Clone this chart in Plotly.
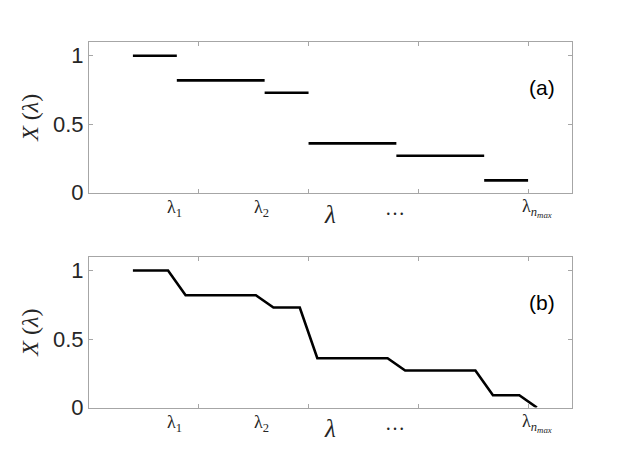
import plotly.graph_objects as go

# step edges and levels, panel (a)
step_edges = [1, 2, 4, 5, 7, 9, 10]
step_levels = [1.0, 0.82, 0.73, 0.36, 0.27, 0.09]

# smoothed curve, panel (b)
smooth_x = [1, 1.8, 2.2, 3.8, 4.2, 4.8, 5.2, 6.8, 7.2, 8.8, 9.2, 9.8, 10.2]
smooth_y = [1.0, 1.0, 0.82, 0.82, 0.73, 0.73, 0.36, 0.36, 0.27, 0.27, 0.09, 0.09, 0.0]

# x-axis text labels
label_x = [1.95, 3.93, 6.98, 10.2]
label_text = ["λ<sub>1</sub>", "λ<sub>2</sub>", "…", "λ<sub><i>n<sub>max</sub></i></sub>"]

W, H = 623, 467
SERIF = "Liberation Serif, DejaVu Serif, serif"
SANS = "Liberation Sans, Arial, sans-serif"

# panel boxes in pixels (left, right, top, bottom)
px_left, px_right = 81, 564
panels = [(35, 190, "(a)"), (256, 411, "(b)")]

fig = go.Figure()

# panel (a): horizontal segments separated by gaps
seg_x, seg_y = [], []
for i, lvl in enumerate(step_levels):
    seg_x += [step_edges[i], step_edges[i + 1], None]
    seg_y += [lvl, lvl, None]

fig.add_trace(go.Scatter(x=seg_x, y=seg_y, mode="lines",
                         line=dict(color="black", width=2.6),
                         xaxis="x", yaxis="y", showlegend=False))
fig.add_trace(go.Scatter(x=smooth_x, y=smooth_y, mode="lines",
                         line=dict(color="black", width=2.6),
                         xaxis="x2", yaxis="y2", showlegend=False))

axis_common = dict(
    showline=True, mirror="ticks", linecolor="#a6a6a6", linewidth=1,
    ticks="inside", ticklen=4, tickcolor="#a6a6a6",
    showgrid=False, zeroline=False,
)

layout = dict(
    width=W, height=H,
    margin=dict(l=0, r=0, t=0, b=0),
    paper_bgcolor="white", plot_bgcolor="white",
    showlegend=False,
)

annotations = []
for k, (top, bot, tag) in enumerate(panels):
    sfx = "" if k == 0 else str(k + 1)
    ydom = [(H - bot) / H, (H - top) / H]
    layout["xaxis" + sfx] = dict(
        axis_common, domain=[px_left / W, px_right / W], range=[0, 11],
        tickvals=[2.5, 5, 7.5, 10], showticklabels=False,
        anchor="y" + sfx,
    )
    layout["yaxis" + sfx] = dict(
        axis_common, domain=ydom, range=[0, 1.1],
        tickvals=[0, 0.5, 1], ticktext=["0", "0.5", "1"],
        tickfont=dict(family=SANS, size=22, color="#262626"),
        anchor="x" + sfx,
    )
    h = bot - top
    xr, yr = "x" + sfx, "y" + sfx + " domain"
    for lx, lt in zip(label_x, label_text):
        annotations.append(dict(
            x=lx, y=-16 / h, xref=xr, yref=yr, text=lt, showarrow=False,
            xanchor="center", yanchor="middle",
            font=dict(family=SERIF, size=18 if lt != "…" else 20, color="#262626"),
        ))
    # axis label
    annotations.append(dict(
        x=5.48, y=-22 / h, xref=xr, yref=yr, text="<i>λ</i>", showarrow=False,
        xanchor="center", yanchor="middle",
        font=dict(family=SERIF, size=25, color="#262626"),
    ))
    # y title
    annotations.append(dict(
        x=22 / W, y=(H - (top + 78)) / H, xref="paper", yref="paper",
        text="<i>X</i> (<i>λ</i>)", textangle=-90, showarrow=False,
        xanchor="center", yanchor="middle",
        font=dict(family=SERIF, size=24, color="#262626"),
    ))
    # panel tag
    annotations.append(dict(
        x=534 / W, y=(H - (top + 47)) / H, xref="paper", yref="paper",
        text=tag, showarrow=False, xanchor="center", yanchor="middle",
        font=dict(family=SANS, size=21, color="black"),
    ))

layout["annotations"] = annotations
fig.update_layout(**layout)

fig.write_html("out.html")
